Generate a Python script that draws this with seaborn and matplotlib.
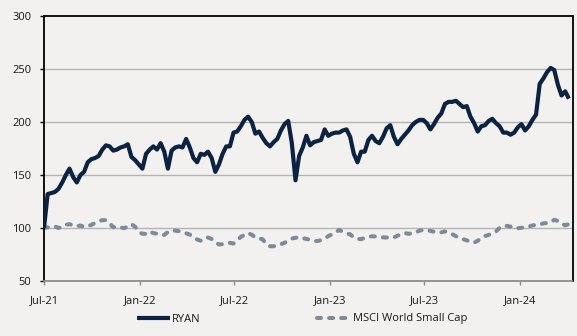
import numpy as np
import pandas as pd
import matplotlib
matplotlib.use("Agg")
import matplotlib.pyplot as plt
import matplotlib.dates as mdates
import seaborn as sns

# ---- data (weekly) ----
start_date = "2021-07-01"
ryan = [100, 132, 133, 134, 137, 143, 150, 156, 148, 143,
        150, 153, 162, 165, 166, 168, 174, 178, 177, 173,
        174, 176, 177, 179, 167, 164, 160, 156, 170, 174,
        177, 174, 180, 172, 156, 173, 176, 177, 176, 184,
        176, 166, 162, 170, 169, 172, 166, 153, 160, 170,
        177, 177, 190, 191, 196, 202, 205, 200, 189, 191,
        185, 180, 177, 181, 184, 192, 198, 201, 180, 145,
        168, 176, 187, 178, 181, 182, 183, 193, 187, 189,
        190, 190, 192, 193, 186, 170, 162, 172, 172, 183,
        187, 182, 180, 186, 194, 197, 186, 179, 184, 188,
        192, 197, 200, 202, 202, 199, 193, 198, 204, 208,
        217, 219, 219, 220, 217, 214, 215, 205, 199, 191,
        196, 197, 201, 203, 199, 196, 190, 190, 188, 190,
        195, 198, 192, 196, 202, 207, 236, 241, 247, 251,
        249, 235, 225, 229, 222]
msci = [100, 100.6, 100.8, 101.5, 100, 101, 103.2, 103.6, 102.5, 101.6,
        102.4, 101, 101.5, 103, 104.7, 106.5, 107.4, 107.4, 104.5, 100.6,
        101.3, 100.5, 99.8, 101.4, 103.6, 101.2, 96.5, 94.5, 94.5, 96.8,
        95.2, 94.6, 93.3, 93.5, 96.3, 97.5, 97.5, 97, 96, 95,
        93.8, 91.5, 89.2, 88, 90.3, 91, 89.6, 86.5, 84.5, 84.7,
        85.3, 86, 85.3, 88.5, 91.5, 93.6, 95.3, 93.6, 91.2, 90.3,
        89.3, 84.8, 82.8, 82.8, 83.2, 84.8, 86, 88.2, 90, 90.8,
        91.2, 90.5, 89.6, 89, 87.8, 87.7, 88.5, 90, 92.3, 94,
        95.8, 98.2, 96.4, 95, 94, 91.2, 89.7, 89.5, 90.6, 91.8,
        92.2, 92, 91.3, 91.2, 91, 90.7, 91.1, 92.8, 94.2, 95.2,
        94.6, 94.8, 95.8, 97.5, 98.1, 98.1, 97.3, 96.4, 95.6, 95.9,
        96.8, 95.6, 94.2, 92.3, 90.6, 89.4, 88.3, 87.2, 86.1, 88,
        90.5, 92.4, 93.5, 94.6, 96.7, 100.1, 101.9, 102, 101.3, 99.5,
        99.8, 100.2, 100.7, 101.4, 102.4, 103, 103.2, 104.4, 104.7, 105.5,
        107.7, 106.6, 104.4, 102.5, 103.7]
series_names = ["RYAN", "MSCI World Small Cap"]
y_ticks = [50, 100, 150, 200, 250, 300]

dates = pd.date_range(start_date, periods=len(ryan), freq="7D")
df_ryan = pd.DataFrame({"date": dates, "value": ryan})
df_msci = pd.DataFrame({"date": dates, "value": msci})

BG = "#F2F1EF"
NAVY = "#0B2240"
GREYBLUE = "#7D8A98"

sns.set_theme(style="white")
plt.rcParams["font.family"] = ["Open Sans", "DejaVu Sans"]

fig = plt.figure(figsize=(5.77, 3.36), dpi=100, facecolor=BG)
ax = fig.add_axes([44/577, 1-281/336, (572.5-44)/577, (281-16)/336])
ax.set_facecolor(BG)

for v in y_ticks[1:-1]:
    ax.axhline(v, color="#B4B4B4", lw=1.0, zorder=0)

sns.lineplot(data=df_ryan, x="date", y="value", ax=ax, color=NAVY,
             lw=3.0, label=series_names[0], zorder=3)
sns.lineplot(data=df_msci, x="date", y="value", ax=ax, color=GREYBLUE,
             lw=2.9, label=series_names[1], zorder=2)
l_msci = ax.get_lines()[-1]
l_msci.set_dashes((1.0, 2.0))
l_msci.set_dash_capstyle("round")
ax.get_lines()[-2].set_solid_capstyle("butt")
ax.get_lines()[-2].set_solid_joinstyle("round")

ax.set_ylim(50, 300)
ax.set_yticks(y_ticks)
ax.set_xlim(pd.Timestamp("2021-07-01"), pd.Timestamp("2024-04-11"))
ax.xaxis.set_major_locator(mdates.MonthLocator(bymonth=[1, 7]))
ax.xaxis.set_major_formatter(mdates.DateFormatter("%b-%y"))
ax.set_xlabel("")
ax.set_ylabel("")

for s in ["left", "top", "right"]:
    ax.spines[s].set_color("black")
    ax.spines[s].set_linewidth(1.3)
ax.spines["bottom"].set_color("#8C8C8C")
ax.spines["bottom"].set_linewidth(1.3)

ax.tick_params(axis="y", which="major", direction="out", length=3.2, width=1.0,
               color="black", labelsize=8, labelcolor="#1A1A1A", pad=6, left=True)
ax.tick_params(axis="x", which="major", direction="out", length=3.2, width=1.0,
               color="#8C8C8C", labelsize=8, labelcolor="#1A1A1A", pad=7, bottom=True)

ax.get_legend().remove()
handles, labels = ax.get_legend_handles_labels()
fig.legend(handles, labels, loc="center", bbox_to_anchor=(302/577, 1-319/336),
           ncol=2, frameon=False, fontsize=8, handlelength=3.0,
           handletextpad=0.2, columnspacing=10.5, labelcolor="#1A1A1A")

fig.savefig("out.png", dpi=100, facecolor=BG)
